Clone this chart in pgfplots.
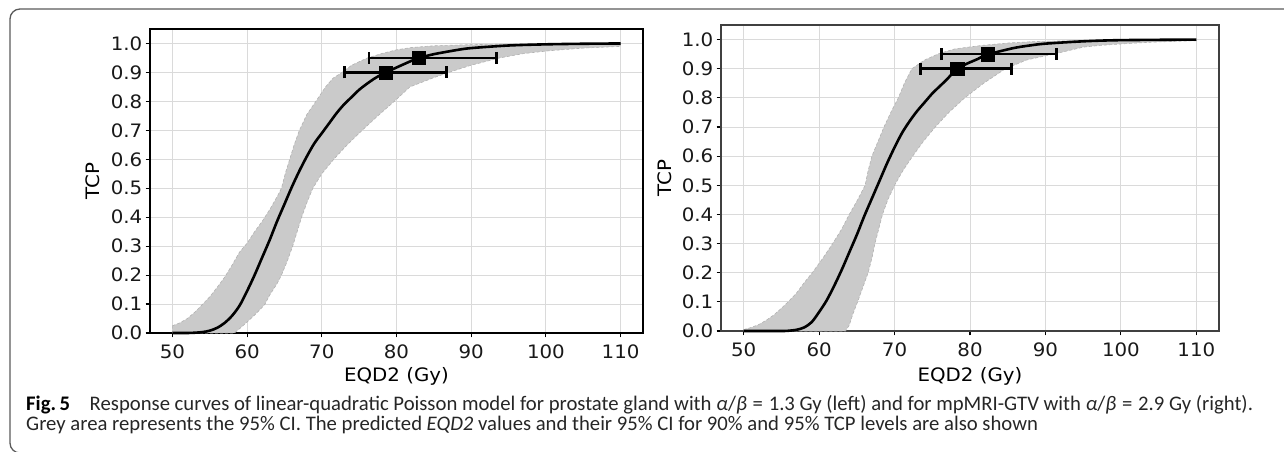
\documentclass[border=0pt]{standalone}
\usepackage{pgfplots}
\pgfplotsset{compat=1.18}
\usepackage{fontspec}
\setmainfont{DejaVu Sans}[FakeStretch=1.07]
\newfontfamily\capfont{Carlito}
\definecolor{bandgray}{RGB}{202,202,202}
\definecolor{gridgray}{RGB}{218,218,218}
\definecolor{framegray}{RGB}{90,90,90}
\pgfplotsset{
  tcpaxis/.style={
    scale only axis,
    anchor=south west,
    xmin=47, xmax=113, ymin=0, ymax=1.05,
    xtick={50,60,70,80,90,100,110},
    ytick={0,0.1,0.2,0.3,0.4,0.5,0.6,0.7,0.8,0.9,1.0},
    xtick pos=bottom, ytick pos=left,
    y tick label style={/pgf/number format/fixed, /pgf/number format/fixed zerofill, /pgf/number format/precision=1},
    /pgf/number format/assume math mode=true,
    grid=major,
    major grid style={color=gridgray, line width=0.9pt},
    tick align=outside,
    major tick length=4.5pt,
    tick style={black, line width=1.1pt},
    axis line style={black!85, line width=1.6pt},
    tick label style={font=\fontsize{18.5}{20}\selectfont, text=black!90},
    y tick label style={anchor=east, inner sep=0pt, xshift=-3pt},
    x tick label style={anchor=north, inner sep=0pt, yshift=-7pt},
    clip=false,
  },
  band/.style={fill=bandgray, draw=black!30, dash pattern=on 3pt off 2pt, line width=0.6pt},
  central/.style={black, line width=2.6pt, mark=none, smooth},
  sqmark/.style={only marks, mark=square*, mark size=6.6pt, line width=2.6pt,
    mark options={fill=black, draw=black, line width=0.4pt, solid},
    error bars/x dir=both, error bars/x explicit,
    error bars/error bar style={draw=black, solid, line width=2.6pt},
    error bars/error mark options={draw=black, solid, rotate=90, mark size=6pt, line width=2.6pt}},
}
\begin{document}
\begin{tikzpicture}[x=1pt,y=1pt]
\useasboundingbox (0,0) rectangle (1284,452);
\draw[framegray, line width=1.3pt, rounded corners=10pt] (1300,443) -- (10,443) -- (10,-1) -- (1300,-1);

% ---------------- left panel ----------------
\begin{axis}[tcpaxis, at={(150pt,119pt)}, width=493pt, height=304pt, axis line style={black, line width=1.8pt}]
\addplot[band] coordinates {
(50,0.025)(51,0.035)(52,0.05)(53,0.072)(54,0.098)(55,0.125)(56,0.158)(57,0.193)(58,0.235)(59,0.28)(60,0.31)(61,0.35)(62,0.385)(63,0.425)(64,0.47)(64.6,0.5)(65.1,0.55)(65.7,0.6)(66.3,0.65)(67,0.7)(68,0.755)(69.2,0.8)(70.5,0.85)(71.5,0.88)(72.7,0.9)(74,0.925)(76.1,0.95)(78,0.965)(80,0.978)(82,0.986)(85,0.992)(90,0.996)(95,0.998)(100,0.999)(110,1.0)
(110,0.99)(105,0.984)(100.5,0.975)(97,0.965)(93.8,0.95)(90,0.925)(87,0.9)(85,0.882)(81.8,0.85)(79.7,0.8)(77.5,0.75)(75.4,0.7)(73.4,0.65)(71.6,0.6)(70,0.55)(68.8,0.5)(68,0.45)(67.3,0.4)(66.7,0.35)(66.1,0.3)(65.4,0.25)(64.6,0.2)(64,0.17)(63,0.13)(62.4,0.1)(62,0.088)(61,0.062)(60,0.038)(59,0.015)(58.3,0)(50,0)
} -- cycle;
\addplot[central] coordinates {
(50,0)(52,0)(53,0.001)(54,0.003)(55,0.008)(56,0.018)(57,0.035)(58,0.06)(59,0.095)(60,0.145)(61,0.2)(62,0.26)(63,0.32)(64,0.385)(65,0.445)(66,0.505)(67,0.56)(68,0.61)(69,0.655)(70,0.69)(71,0.725)(72,0.76)(73,0.79)(74,0.815)(75,0.84)(76,0.86)(77,0.878)(78,0.893)(78.6,0.9)(80,0.917)(82,0.94)(83,0.95)(85,0.963)(88,0.977)(90,0.984)(95,0.993)(100,0.997)(105,0.999)(110,1.0)
};
\addplot[sqmark] coordinates {
(78.6,0.9) += (8.1,0) -= (5.6,0)
(83.0,0.95) += (10.4,0) -= (6.7,0)
};
\end{axis}

% ---------------- right panel ----------------
\begin{axis}[tcpaxis, at={(721pt,121pt)}, width=498pt, height=306pt, axis line style={black!75, line width=1.6pt}]
\addplot[band] coordinates {
(50,0.005)(51,0.012)(52,0.022)(53,0.037)(54,0.055)(55,0.078)(55.9,0.1)(57,0.13)(58,0.165)(59.1,0.2)(60.5,0.25)(61.8,0.3)(63,0.35)(64,0.4)(65.1,0.45)(66.1,0.5)(66.5,0.55)(67,0.6)(67.8,0.65)(68.6,0.7)(69.5,0.75)(70.5,0.8)(71.3,0.85)(72.3,0.9)(74,0.93)(75.9,0.952)(78,0.968)(81.6,0.98)(85,0.988)(88.3,0.993)(95,0.997)(100,0.999)(110,1.0)
(110,0.996)(107.4,0.994)(104,0.991)(100,0.985)(97.2,0.98)(95,0.974)(91.4,0.952)(87.5,0.93)(84.7,0.9)(81.8,0.85)(79.3,0.8)(77.2,0.75)(75.4,0.7)(73.8,0.65)(72.4,0.6)(71.1,0.55)(70,0.5)(69.1,0.45)(68.4,0.4)(67.9,0.35)(67.4,0.3)(67,0.25)(66.5,0.2)(65.8,0.15)(65.1,0.1)(64.5,0.06)(64,0.02)(63.5,0)(50,0)
} -- cycle;
\addplot[central] coordinates {
(50,0)(55,0)(56,0.001)(57,0.004)(58,0.012)(59,0.03)(60,0.065)(61,0.105)(62,0.155)(63,0.21)(64,0.27)(65,0.33)(66,0.395)(67,0.455)(68,0.515)(69,0.575)(70,0.63)(71,0.68)(72,0.72)(73,0.755)(74,0.785)(75,0.815)(76,0.84)(77,0.865)(78,0.893)(79,0.91)(80,0.922)(81,0.933)(82,0.946)(84,0.96)(86,0.972)(88,0.98)(90,0.986)(95,0.994)(100,0.998)(110,1.0)
};
\addplot[sqmark] coordinates {
(78.3,0.9) += (7.2,0) -= (4.85,0)
(82.3,0.95) += (9.2,0) -= (6.1,0)
};
\end{axis}

% axis labels
\node[font=\fontsize{18.5}{20}\selectfont] at (396.5,75.3) {EQD2 (Gy)};
\node[font=\fontsize{18.5}{20}\selectfont] at (970,75.3) {EQD2 (Gy)};
\node[font=\fontsize{18.5}{20}\selectfont, rotate=90] at (93,271) {TCP};
\node[font=\fontsize{18.5}{20}\selectfont, rotate=90] at (664.6,274) {TCP};

% caption
\node[anchor=west, inner sep=0pt, font=\capfont\fontsize{20.7}{22}\selectfont, text=black!85] at (26,47)
 {\textbf{\color{black}Fig.\,5}\hspace{0.95em}Response curves of linear-quadratic Poisson model for prostate gland with \textit{α}/\textit{β}\;=\;1.3 Gy (left) and for mpMRI-GTV with \textit{α}/\textit{β}\;=\;2.9 Gy (right).};
\node[anchor=west, inner sep=0pt, font=\capfont\fontsize{20.7}{22}\selectfont, text=black!85] at (26,27)
 {Grey area represents the 95\% CI. The predicted \textit{EQD2} values and their 95\% CI for 90\% and 95\% TCP levels are also shown};
\end{tikzpicture}
\end{document}
